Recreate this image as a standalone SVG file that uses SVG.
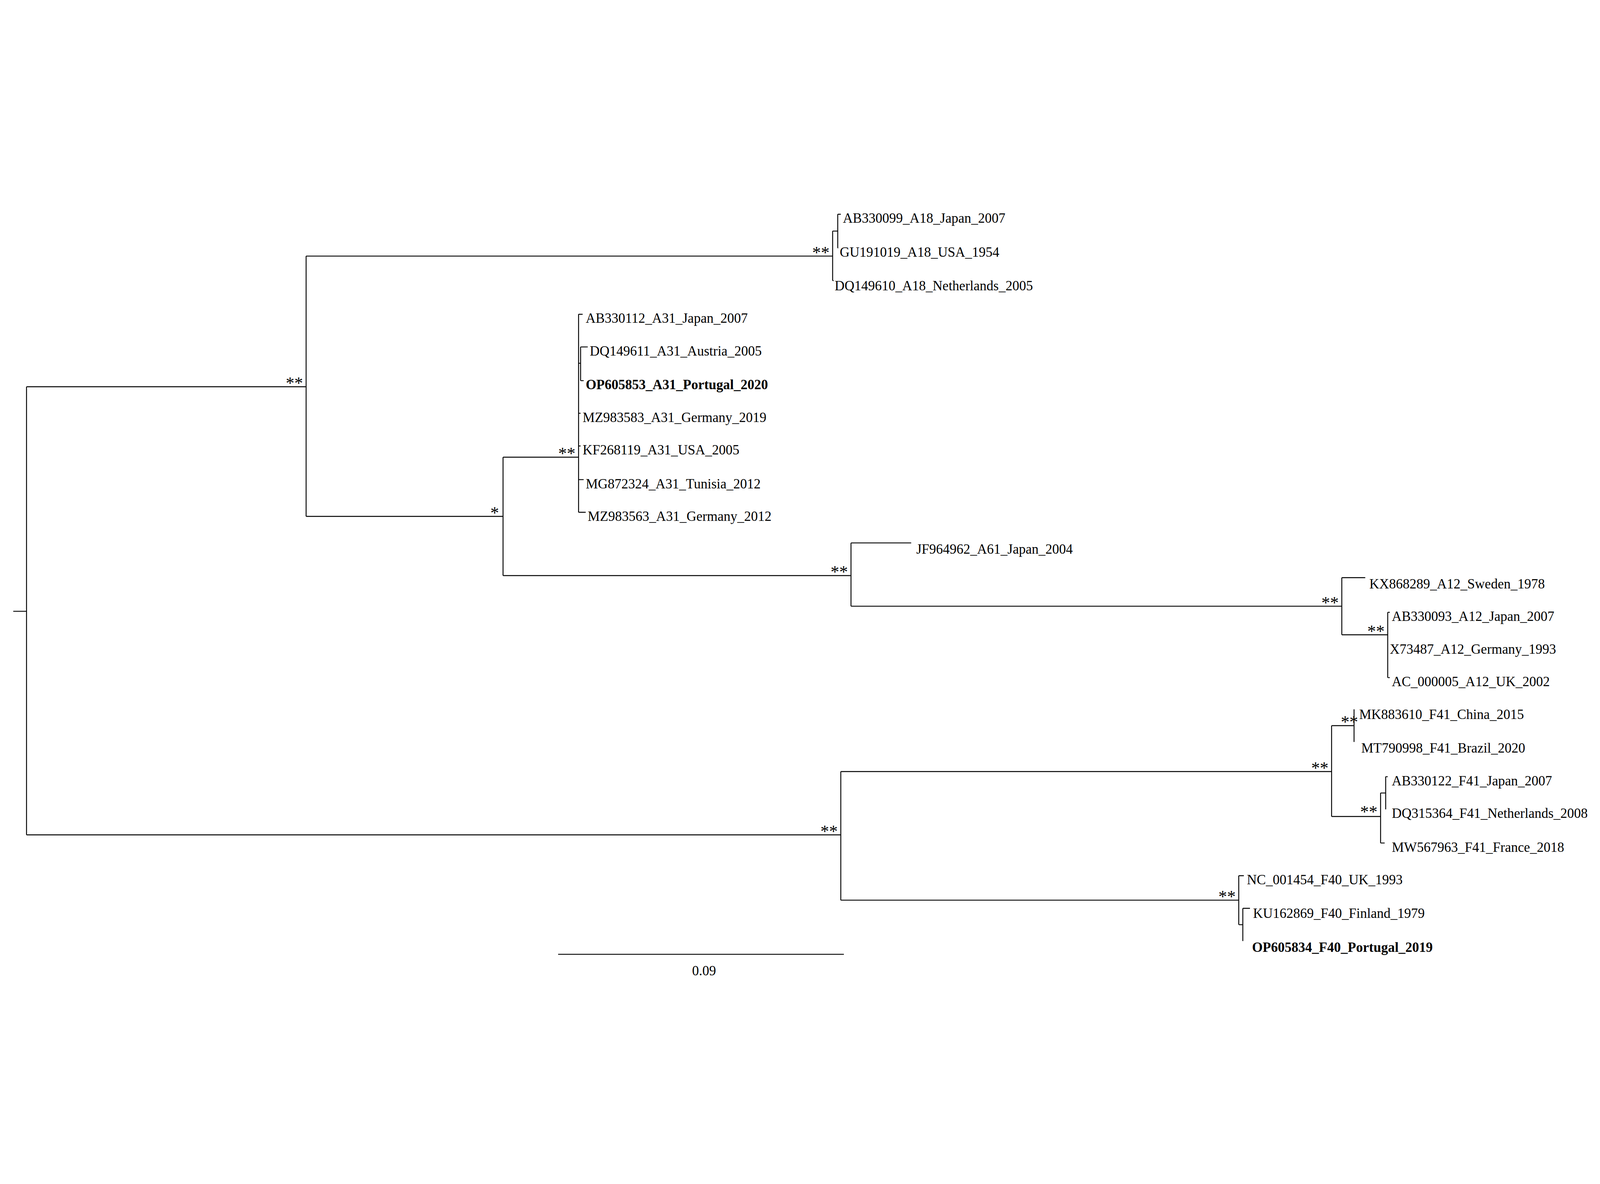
<svg xmlns="http://www.w3.org/2000/svg" width="6153" height="3030" viewBox="0 0 6153 3030" style="width:100%;height:100%">
<style>
.b{fill:none;stroke:#000;stroke-width:0.9}
text{font-family:"Liberation Serif","Times New Roman",serif;font-size:13.4px;fill:#000}
.bold{font-weight:bold}
.s{text-anchor:end;font-size:17px}
</style>
<rect width="6153" height="3030" fill="#fff"/>
<g transform="scale(3.924)">
<g id="connectors">
<path class="b" d="M13,405H26M26,185V624M26,185H300M26,624H824"/>
<path class="b" d="M300,57V312M300,57H816M816,32.5V81M816,32.5H821M821,16V49M821,16H824M821,49H821.5M816,81H817"/>
<path class="b" d="M300,312H493M493,254V370M493,254H567M567,114V308M567,114H571M567,162H569M569,146V179M569,146H576M569,179H572M567,211H569M567,243H569M567,276H572M567,308H574"/>
<path class="b" d="M493,370H834M834,338V400M834,338H893M834,400H1315M1315,372V428M1315,372H1338M1315,428H1360M1360,406V470M1360,406H1362M1360,470H1362"/>
<path class="b" d="M824,562V688M824,562H1305M1305,517V606M1305,517H1327M1327,501V533M1305,606H1353M1353,583V632M1353,583H1358M1358,567V599M1358,567H1360M1353,632H1357"/>
<path class="b" d="M824,688H1214M1214,664V712M1214,664H1219M1214,712H1218M1218,696V728M1218,696H1225"/>
<path class="b" d="M547,741H827"/>
</g>
<g id="supports">
<text class="s" x="297" y="187">**</text>
<text class="s" x="813" y="59">**</text>
<text class="s" x="489" y="314">*</text>
<text class="s" x="564" y="256">**</text>
<text class="s" x="831" y="372">**</text>
<text class="s" x="1312" y="402">**</text>
<text class="s" x="1357" y="430">**</text>
<text class="s" x="821" y="626">**</text>
<text class="s" x="1302" y="564">**</text>
<text class="s" x="1331" y="519">**</text>
<text class="s" x="1350" y="607">**</text>
<text class="s" x="1211" y="690">**</text>
</g>
<g id="tips">
<text x="826" y="24.5">AB330099_A18_Japan_2007</text>
<text x="823" y="57.5">GU191019_A18_USA_1954</text>
<text x="818" y="90.5">DQ149610_A18_Netherlands_2005</text>
<text x="574" y="122.5">AB330112_A31_Japan_2007</text>
<text x="578" y="154.5">DQ149611_A31_Austria_2005</text>
<text class="bold" x="574" y="187.5">OP605853_A31_Portugal_2020</text>
<text x="571" y="219.5">MZ983583_A31_Germany_2019</text>
<text x="571" y="251.5">KF268119_A31_USA_2005</text>
<text x="574" y="284.5">MG872324_A31_Tunisia_2012</text>
<text x="576" y="316.5">MZ983563_A31_Germany_2012</text>
<text x="898" y="348.5">JF964962_A61_Japan_2004</text>
<text x="1342" y="382.5">KX868289_A12_Sweden_1978</text>
<text x="1364" y="414.5">AB330093_A12_Japan_2007</text>
<text x="1362" y="446.5">X73487_A12_Germany_1993</text>
<text x="1364" y="478.5">AC_000005_A12_UK_2002</text>
<text x="1332" y="510.5">MK883610_F41_China_2015</text>
<text x="1334" y="543.5">MT790998_F41_Brazil_2020</text>
<text x="1364" y="575.5">AB330122_F41_Japan_2007</text>
<text x="1364" y="607.5">DQ315364_F41_Netherlands_2008</text>
<text x="1364" y="640.5">MW567963_F41_France_2018</text>
<text x="1222" y="672.5">NC_001454_F40_UK_1993</text>
<text x="1228" y="705.5">KU162869_F40_Finland_1979</text>
<text class="bold" x="1227" y="738.5">OP605834_F40_Portugal_2019</text>
<text x="690" y="761.5" text-anchor="middle">0.09</text>
</g>
</g>
</svg>
